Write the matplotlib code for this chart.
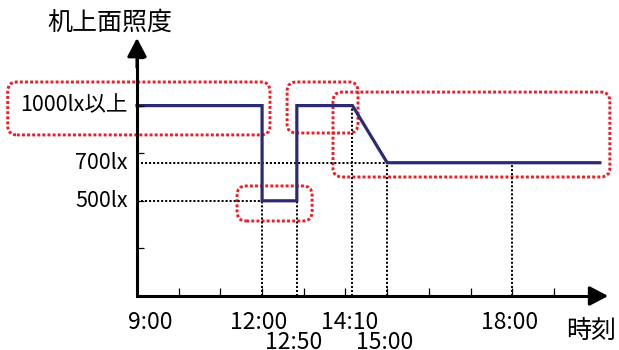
import numpy as np
import matplotlib.pyplot as plt
from matplotlib.patches import FancyBboxPatch

plt.rcParams['font.family'] = ['Noto Sans CJK JP', 'DejaVu Sans']

# --- data (time in hours, illuminance in lx) ---
step_times = [9.0, 12.0, 12.0, 12 + 50 / 60, 12 + 50 / 60, 14 + 10 / 60, 15.0, 20.1]
step_lux = [1000, 1000, 500, 500, 1000, 1000, 700, 700]

level_lux = [500, 700, 1000]
level_labels = ['500lx', '700lx', '1000lx以上']
level_ends = [12.0, 15.0, 9.0]          # dotted guide from axis to this time

mark_times = [9.0, 12.0, 12 + 50 / 60, 14 + 10 / 60, 15.0, 18.0]
mark_labels = ['9:00', '12:00', '12:50', '14:10', '15:00', '18:00']
mark_lux = [0, 500, 500, 1000, 700, 700]   # top of the dotted drop line
mark_row = [0, 0, 1, 0, 1, 0]

hour_ticks = np.arange(10, 20)
lux_ticks = [250, 500, 750, 1000, 1250]

# --- figure ---
fig = plt.figure(figsize=(6.19, 3.5), dpi=100)
ax = fig.add_axes([0, 0, 1, 1])
ax.set_xlim(5.715, 20.559)
ax.set_ylim(-283.6, 1554.6)
ax.axis('off')

# dotted guides
dots = dict(color='black', lw=1.45, linestyle=(0, (1, 1)))
for lv, te in zip(level_lux, level_ends):
    if te > 9:
        ax.plot([9, te], [lv, lv], **dots)
for t, lv in zip(mark_times, mark_lux):
    if lv > 0:
        ax.plot([t, t], [0, lv], **dots)

# highlight boxes (red dotted, rounded)
boxes = [(5.9, 846, 12.19, 1124), (12.6, 856, 14.3, 1124),
         (13.7, 625, 20.34, 1071), (11.4, 394, 13.2, 578)]
for x0, y0, x1, y1 in boxes:
    ax.add_patch(FancyBboxPatch((x0, y0), x1 - x0, y1 - y0,
                                boxstyle='round,pad=0,rounding_size=0.22',
                                mutation_aspect=219, fill=False,
                                ec='#ee1c25', lw=2.1, linestyle=(0, (1, 0.75))))

# illuminance line
ax.plot(step_times, step_lux, color='#2c2b72', lw=2.3, solid_joinstyle='miter')

# axes with arrows
ax.plot([9, 9, 20.0], [1300, 0, 0], color='black', lw=2.2,
        solid_joinstyle='miter', solid_capstyle='butt')
head = dict(arrowstyle='-|>,head_length=0.8,head_width=0.42', color='black',
            lw=2.2, shrinkA=0, shrinkB=0, mutation_scale=14)
ax.annotate('', xy=(9, 1355), xytext=(9, 1200), arrowprops=head)
ax.annotate('', xy=(20.3, 0), xytext=(19.9, 0), arrowprops=head)

# small ticks
ax.vlines(hour_ticks, 0, 42, color='black', lw=0.9)
ax.hlines(lux_ticks, 9, 9.17, color='black', lw=0.9)

# labels
for lv, lab in zip(level_lux, level_labels):
    ax.annotate(lab, xy=(9, lv), xytext=(-9, 0), textcoords='offset pixels',
                ha='right', va='center', fontsize=15.5)
for t, lab, row in zip(mark_times, mark_labels, mark_row):
    dx = 13 if t == 9.0 else -3
    ax.annotate(lab, xy=(t, 0), xytext=(dx, -26 - 20 * row),
                textcoords='offset pixels', ha='center', va='center', fontsize=16.5)

ax.annotate('机上面照度', xy=(9, 1355), xytext=(-27, 15), textcoords='offset pixels',
            ha='center', va='center', fontsize=18)
ax.annotate('時刻', xy=(20.3, 0), xytext=(-17, -35), textcoords='offset pixels',
            ha='center', va='center', fontsize=18)

fig.savefig('out.png', dpi=100)
